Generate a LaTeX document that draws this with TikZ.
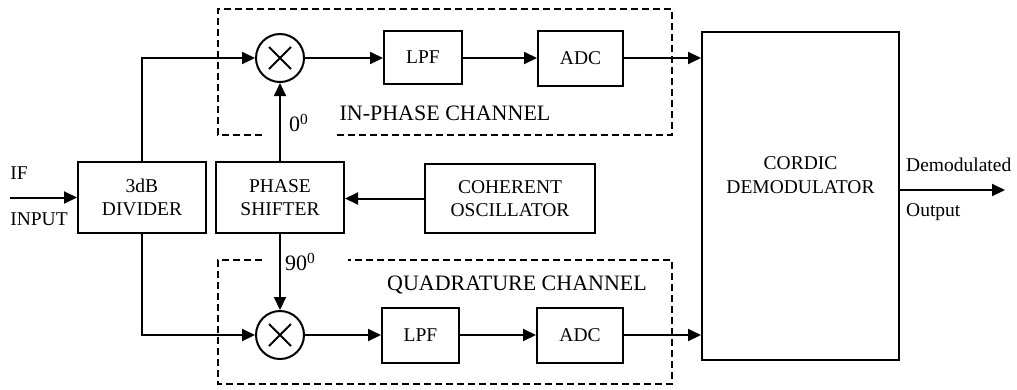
\documentclass[tikz,border=0pt]{standalone}
\usepackage{fontspec}
\setmainfont{Liberation Serif}
\usetikzlibrary{arrows.meta,calc}
\begin{document}
\begin{tikzpicture}[x=1pt,y=-1pt,
  txt/.style={font=\fontsize{19.5}{23.5}\selectfont, align=center, inner sep=0pt},
  bigtxt/.style={font=\fontsize{22}{25}\selectfont, inner sep=0pt},
  blk/.style={draw, line width=2pt, txt, minimum width=#1},
  mix/.style={draw, circle, line width=2pt, minimum size=48pt, inner sep=0pt},
  wire/.style={line width=2pt, -{Triangle[length=13pt,width=12pt]}},
  chan/.style={line width=1.4pt, dash pattern=on 7pt off 4pt}]
\useasboundingbox (0,0) rectangle (1017,389);

% blocks
\node[blk=128pt, minimum height=71pt] (div) at (142,197.5) {3dB\\DIVIDER};
\node[blk=128pt, minimum height=71pt] (ps) at (280,197.5) {PHASE\\SHIFTER};
\node[blk=170pt, minimum height=69pt] (osc) at (510,198.5) {COHERENT\\OSCILLATOR};
\node[blk=78pt, minimum height=53pt] (lpfI) at (423,57.5) {LPF};
\node[blk=85pt, minimum height=55pt] (adcI) at (580.5,58.5) {ADC};
\node[blk=77pt, minimum height=55pt] (lpfQ) at (420.5,335.5) {LPF};
\node[blk=86pt, minimum height=55pt] (adcQ) at (580,335.5) {ADC};
\node[blk=197pt, minimum height=328pt] (cordic) at (800.5,196) {};
\node[txt] (cordicText) at (800.5,175) {CORDIC\\DEMODULATOR};

% mixers
\node[mix] (mixI) at (280,58) {};
\node[mix] (mixQ) at (280,335) {};
\foreach \m in {mixI,mixQ}{
  \draw[line width=2pt] ($(\m)+(-11,-11)$) -- ($(\m)+(11,11)$);
  \draw[line width=2pt] ($(\m)+(-11,11)$) -- ($(\m)+(11,-11)$);
}

% channel boxes
\draw[chan] (262,135) -- (218,135) -- (218,9) -- (672,9) -- (672,135) -- (335,135);
\draw[chan] (262,260) -- (218,260) -- (218,384) -- (672,384) -- (672,260) -- (348,260);
\node[bigtxt] (lblI) at (445,113) {IN-PHASE CHANNEL};
\node[bigtxt] (lblQ) at (517,285) {QUADRATURE CHANNEL};

% connectors
\coordinate (inL) at (10,197.5);
\draw[wire] (inL) -- (div.west);
\node[txt] (ifl) at (19,173) {IF};
\node[txt] (inl) at (39,219) {INPUT};

\draw[wire] (div.north) |- (mixI.west);
\draw[wire] (div.south) |- (mixQ.west);
\draw[wire] (ps.north) -- (mixI.south);
\draw[wire] (ps.south) -- (mixQ.north);
\node[bigtxt, anchor=west] (deg0) at (289,123) {0\textsuperscript{0}};
\node[bigtxt, anchor=west] (deg90) at (285,262) {90\textsuperscript{0}};
\draw[wire] (osc.west) -- (osc.west -| ps.east);

\draw[wire] (mixI.east) -- (mixI.east -| lpfI.west);
\draw[wire] (lpfI.east |- mixI.east) -- (mixI.east -| adcI.west);
\draw[wire] (adcI.east |- mixI.east) -- (mixI.east -| cordic.west);
\draw[wire] (mixQ.east) -- (mixQ.east -| lpfQ.west);
\draw[wire] (lpfQ.east |- mixQ.east) -- (mixQ.east -| adcQ.west);
\draw[wire] (adcQ.east |- mixQ.east) -- (mixQ.east -| cordic.west);

\coordinate (outR) at (1005,190);
\draw[wire] (cordic.east |- outR) -- (outR);
\node[txt, anchor=west] (dem) at (906,165) {Demodulated};
\node[txt, anchor=west] (outl) at (906,212) {Output};
\end{tikzpicture}
\end{document}
